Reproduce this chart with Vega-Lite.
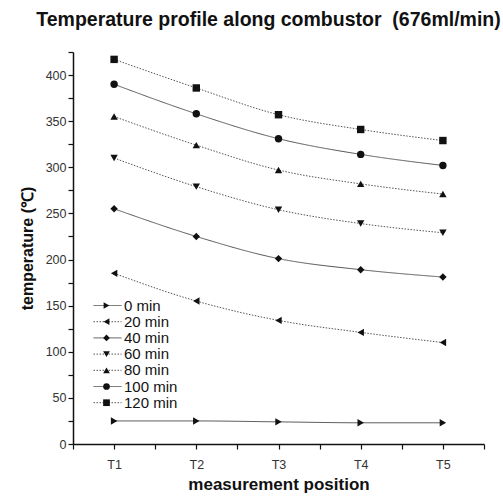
{
  "$schema": "https://vega.github.io/schema/vega-lite/v6.json",
  "width": 411,
  "height": 392,
  "autosize": {"type": "none"},
  "padding": {"left": 73, "top": 52, "right": 19, "bottom": 52},
  "background": "white",
  "title": {
    "text": "Temperature profile along combustor\u00a0 (676ml/min)",
    "font": "Liberation Sans",
    "fontSize": 19.5,
    "fontWeight": "bold",
    "color": "#111",
    "anchor": "middle",
    "dx": -10,
    "offset": 21
  },
  "config": {
    "view": {"stroke": null},
    "axis": {
      "domainColor": "#111",
      "domainWidth": 1.5,
      "tickColor": "#111",
      "tickWidth": 1.2,
      "grid": false,
      "labelFont": "Liberation Sans",
      "labelFontSize": 12.5,
      "labelColor": "#333",
      "titleFont": "Liberation Sans",
      "titleFontWeight": "bold",
      "titleColor": "#111"
    },
    "legend": {
      "labelFont": "Liberation Sans",
      "labelFontSize": 15,
      "labelColor": "#111"
    }
  },
  "data": {
    "values": [
      {"t": 0, "pos": 1, "temp": 25}, {"t": 0, "pos": 2, "temp": 25}, {"t": 0, "pos": 3, "temp": 24}, {"t": 0, "pos": 4, "temp": 23}, {"t": 0, "pos": 5, "temp": 23},
      {"t": 20, "pos": 1, "temp": 185}, {"t": 20, "pos": 2, "temp": 155}, {"t": 20, "pos": 3, "temp": 134}, {"t": 20, "pos": 4, "temp": 121}, {"t": 20, "pos": 5, "temp": 110},
      {"t": 40, "pos": 1, "temp": 255}, {"t": 40, "pos": 2, "temp": 225}, {"t": 40, "pos": 3, "temp": 201}, {"t": 40, "pos": 4, "temp": 189}, {"t": 40, "pos": 5, "temp": 181},
      {"t": 60, "pos": 1, "temp": 310}, {"t": 60, "pos": 2, "temp": 279}, {"t": 60, "pos": 3, "temp": 254}, {"t": 60, "pos": 4, "temp": 239}, {"t": 60, "pos": 5, "temp": 229},
      {"t": 80, "pos": 1, "temp": 355}, {"t": 80, "pos": 2, "temp": 324}, {"t": 80, "pos": 3, "temp": 297}, {"t": 80, "pos": 4, "temp": 282}, {"t": 80, "pos": 5, "temp": 271},
      {"t": 100, "pos": 1, "temp": 390}, {"t": 100, "pos": 2, "temp": 358}, {"t": 100, "pos": 3, "temp": 331}, {"t": 100, "pos": 4, "temp": 314}, {"t": 100, "pos": 5, "temp": 302},
      {"t": 120, "pos": 1, "temp": 417}, {"t": 120, "pos": 2, "temp": 386}, {"t": 120, "pos": 3, "temp": 357}, {"t": 120, "pos": 4, "temp": 341}, {"t": 120, "pos": 5, "temp": 329}
    ]
  },
  "encoding": {
    "x": {
      "field": "pos",
      "type": "quantitative",
      "scale": {"domain": [0.5, 5.5], "nice": false, "zero": false},
      "axis": {
        "title": "measurement position",
        "titleFontSize": 17,
        "values": [0.5, 1, 1.5, 2, 2.5, 3, 3.5, 4, 4.5, 5, 5.5],
        "labelExpr": "datum.value % 1 == 0 ? 'T' + datum.value : ''",
        "tickSize": 5,
        "labelPadding": 9,
        "titlePadding": 6
      }
    },
    "y": {
      "field": "temp",
      "type": "quantitative",
      "scale": {"domain": [0, 425], "nice": false},
      "axis": {
        "title": "temperature (℃)",
        "titleFontSize": 16,
        "values": [0, 25, 50, 75, 100, 125, 150, 175, 200, 225, 250, 275, 300, 325, 350, 375, 400, 425],
        "labelExpr": "datum.value % 50 == 0 ? datum.value : ''",
        "tickSize": 5,
        "labelPadding": 2,
        "titlePadding": 10
      }
    }
  },
  "layer": [
    {
      "mark": {"type": "line", "interpolate": "monotone", "strokeWidth": 1, "color": "#555"},
      "encoding": {
        "detail": {"field": "t", "type": "ordinal"},
        "strokeDash": {
          "field": "t",
          "type": "ordinal",
          "scale": {
            "domain": [0, 20, 40, 60, 80, 100, 120],
            "range": [[1, 0], [1.5, 1.5], [1, 0], [1.5, 1.5], [1.5, 1.5], [1, 0], [1.5, 1.5]]
          },
          "legend": {
            "orient": "bottom-left",
            "offset": 33,
            "title": null,
            "symbolType": "M-4,0H1.6",
            "symbolSize": 100,
            "symbolStrokeColor": "#555",
            "symbolStrokeWidth": 1,
            "labelExpr": "''",
            "labelFontSize": 15,
            "rowPadding": 0.2
          }
        }
      }
    },
    {
      "mark": {"type": "point", "filled": true, "size": 55, "opacity": 1, "color": "#111"},
      "encoding": {
        "shape": {
          "field": "t",
          "type": "ordinal",
          "scale": {
            "range": ["triangle-right", "triangle-left", "diamond", "triangle-down", "triangle-up", "circle", "square"]
          },
          "legend": {
            "orient": "none",
            "legendX": 26,
            "legendY": 246,
            "title": null,
            "symbolSize": 45,
            "symbolFillColor": "#111",
            "symbolStrokeColor": "#111",
            "labelExpr": "datum.value + ' min'",
            "labelOffset": 10,
            "rowPadding": 0.2
          }
        }
      }
    }
  ]
}
